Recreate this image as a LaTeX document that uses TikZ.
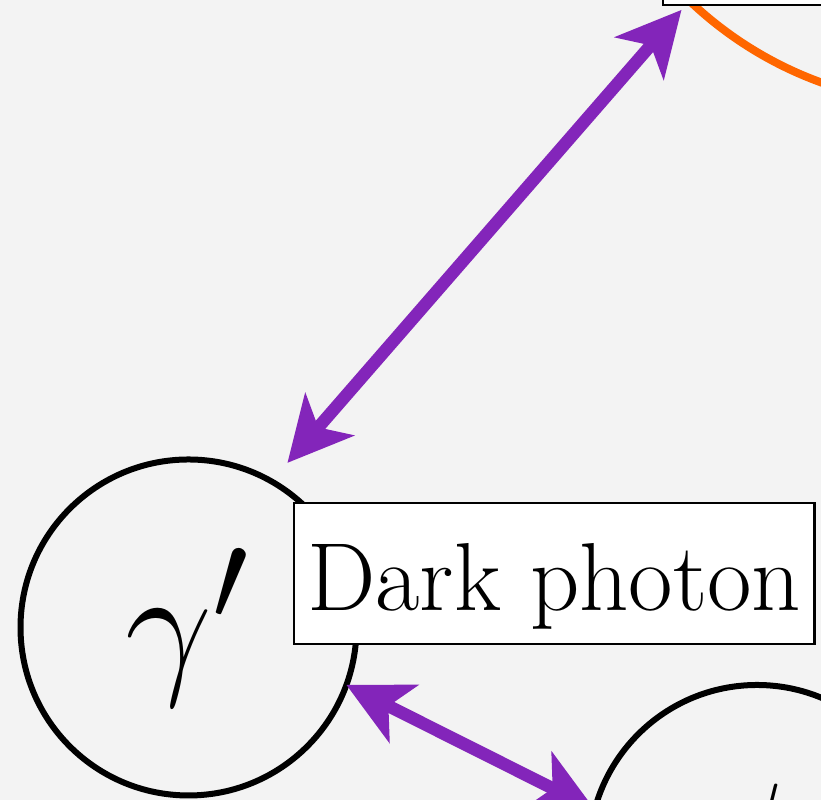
\documentclass[tikz,border=0pt]{standalone}
\usepackage{graphicx}
\usepackage{xcolor}
\usetikzlibrary{arrows.meta,calc}
\definecolor{paper}{RGB}{243,243,243}
\definecolor{portalpurple}{RGB}{131,37,186}
\definecolor{smorange}{RGB}{255,102,0}
\newcommand{\bigsym}[1]{\scalebox{1.77}{$#1$}}

\tikzset{
  particle/.style={circle, draw=black, line width=0.6mm, minimum size=33.6mm,
    inner sep=0pt, outer sep=0pt, font=\Huge},
  namebox/.style={draw=black, fill=white, line width=0.25mm, inner sep=1.3mm,
    text height=9.5mm, text depth=2mm, font=\fontsize{27.5}{32}\selectfont},
  portal/.style={draw=portalpurple, line width=1.25mm,
    {Stealth[length=6.4mm,width=6.4mm,inset=1.7mm]}-{Stealth[length=6.4mm,width=6.4mm,inset=1.7mm]}}
}

\begin{document}
\begin{tikzpicture}[x=0.1mm,y=0.1mm]
  \useasboundingbox (0,0) rectangle (821,800);
  \clip (0,0) rectangle (821,800);
  \fill[paper] (0,0) rectangle (821,800);

  % Standard Model circle, only its lower left part shows
  \coordinate (smc) at (950,1073);
  \draw[smorange, line width=0.8mm] (smc) circle (37.8mm);
  \draw[fill=white, line width=0.25mm] (663,795) rectangle (1000,1000);

  % dark sector particles
  \node[particle] (gp) at (188.5,172.5) {\bigsym{\gamma'}};
  \node[particle] (dm) at (757,-53) {\bigsym{\psi}};
  \node[namebox, anchor=base west] (gplbl) at (293,189) {Dark photon};

  % portals
  \draw[portal] ($(gp.center)+(59:192)$) -- ($(smc)+(226.5:390)$);
  \draw[portal] (gp.-20) -- (dm.165);
\end{tikzpicture}
\end{document}
